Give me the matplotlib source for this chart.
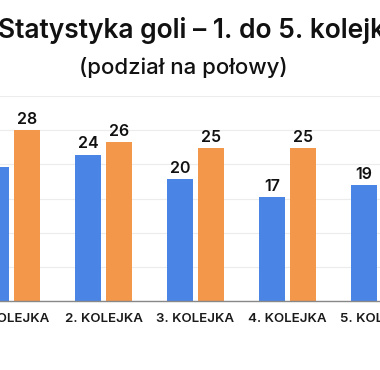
import numpy as np
import matplotlib
matplotlib.use("Agg")
from matplotlib import pyplot

pyplot.rcParams["font.family"] = ["Inter", "DejaVu Sans"]

# Data (5th second-half bar lies outside the frame)
rounds = ["1. KOLEJKA", "2. KOLEJKA", "3. KOLEJKA", "4. KOLEJKA", "5. KOLEJKA"]
first_half = [22, 24, 20, 17, 19]
second_half = [28, 26, 25, 25, 23]

blue = "#4a85e6"
orange = "#f3974b"

figure = pyplot.figure(figsize=(3.8, 3.7), dpi=100)
axes = figure.add_axes([0.0, 0.1865, 1.0, 0.554])

x = np.arange(len(rounds))
width = 0.28
offset = 0.168

bars_1 = axes.bar(x - offset, first_half, width, color=blue, zorder=2)
bars_2 = axes.bar(x + offset, second_half, width, color=orange, zorder=2)

for bars in (bars_1, bars_2):
    for bar in bars:
        axes.annotate(f"{int(bar.get_height())}",
                      (bar.get_x() + bar.get_width() / 2, bar.get_height()),
                      xytext=(0, 2.5), textcoords="offset points",
                      ha="center", va="bottom", fontsize=11.5,
                      fontweight="semibold", color="#111111")

axes.set_xlim(-0.125, 4.005)
axes.set_ylim(0, 33.6)
axes.set_yticks(np.arange(0, 34, 5.6))
axes.yaxis.grid(True, color="#ececec", linewidth=0.8, zorder=0)
axes.set_axisbelow(True)
axes.tick_params(axis="y", left=False, labelleft=False)
axes.tick_params(axis="x", bottom=False, pad=5)
axes.set_xticks(x)
axes.set_xticklabels(rounds, fontsize=9.6, fontweight="semibold", color="#1a1a1a")

for side in ("top", "left", "right"):
    axes.spines[side].set_visible(False)
axes.spines["bottom"].set_color("#888888")
axes.spines["bottom"].set_linewidth(1.0)

figure.text(0.512, 0.897, "Statystyka goli – 1. do 5. kolejki",
            ha="center", va="baseline", fontsize=19,
            fontweight="semibold", color="#111111")
figure.text(0.482, 0.8, "(podział na połowy)",
            ha="center", va="baseline", fontsize=16,
            fontweight="medium", color="#111111")

figure.savefig("out.png", dpi=100)
